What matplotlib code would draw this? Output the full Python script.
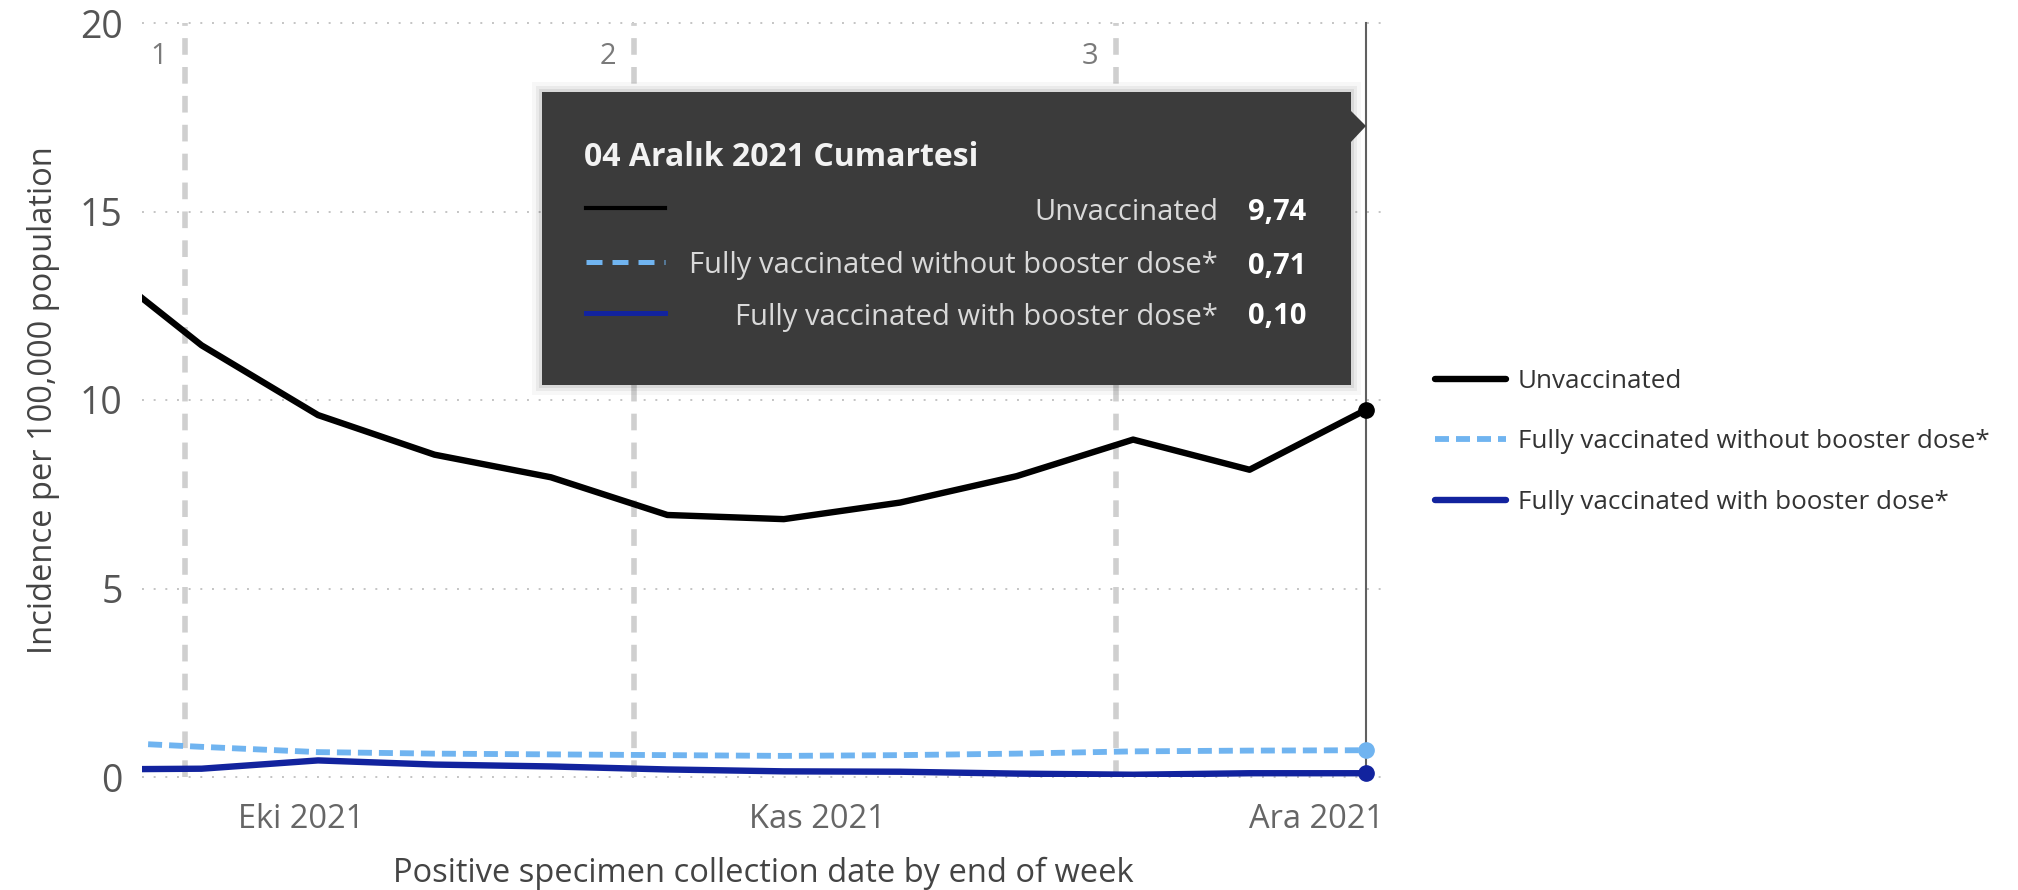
import datetime as dt

import matplotlib

matplotlib.use("Agg")
import matplotlib.pyplot as plt
from matplotlib.lines import Line2D
from matplotlib.patches import Polygon, Rectangle

plt.rcParams["font.family"] = ["Open Sans", "DejaVu Sans"]

# Weekly incidence per 100,000 (week ending date)
week_end = [
    "2021-09-18", "2021-09-25", "2021-10-02", "2021-10-09", "2021-10-16", "2021-10-23",
    "2021-10-30", "2021-11-06", "2021-11-13", "2021-11-20", "2021-11-27", "2021-12-04",
]
unvaccinated = [13.9, 11.45, 9.6, 8.55, 7.95, 6.95, 6.84, 7.28, 7.98, 8.95, 8.15, 9.74]
no_booster = [0.95, 0.80, 0.66, 0.62, 0.60, 0.58, 0.56, 0.58, 0.62, 0.68, 0.70, 0.71]
with_booster = [0.20, 0.22, 0.44, 0.33, 0.28, 0.20, 0.15, 0.14, 0.09, 0.06, 0.10, 0.10]

series_names = [
    "Unvaccinated",
    "Fully vaccinated without booster dose*",
    "Fully vaccinated with booster dose*",
]
series_colors = ["#000000", "#70B4F0", "#12239E"]

# numbered reference markers on the date axis
phase_dates = ["2021-09-24", "2021-10-21", "2021-11-19"]
phase_labels = ["1", "2", "3"]

month_ticks = ["2021-10-01", "2021-11-01", "2021-12-01"]
month_labels = ["Eki 2021", "Kas 2021", "Ara 2021"]
y_ticks = [0, 5, 10, 15, 20]

tr_months = ["Ocak", "Şubat", "Mart", "Nisan", "Mayıs", "Haziran", "Temmuz",
             "Ağustos", "Eylül", "Ekim", "Kasım", "Aralık"]
tr_days = ["Pazartesi", "Salı", "Çarşamba", "Perşembe", "Cuma", "Cumartesi", "Pazar"]


def to_date(s):
    return dt.datetime.strptime(s, "%Y-%m-%d")


dates = [to_date(d) for d in week_end]
series = [unvaccinated, no_booster, with_booster]

W, H = 2018, 890
fig = plt.figure(figsize=(W / 100, H / 100), dpi=100)


def fx(x):
    return x / W


def fy(y):
    return 1 - y / H


ax = fig.add_axes([fx(142), fy(777), fx(1384 - 142), (777 - 23) / H])
ax.set_xlim(dt.datetime(2021, 9, 21, 10), dt.datetime(2021, 12, 5, 2))
ax.set_ylim(0, 20)
for s in ax.spines.values():
    s.set_visible(False)

# dotted horizontal grid
for v in y_ticks:
    ax.axhline(v, color="#c4c4c4", lw=1.4, ls=(0, (1, 5)), zorder=0, clip_on=False)

# reference markers
for d, lab in zip(phase_dates, phase_labels):
    ax.plot([to_date(d)] * 2, [0, 20], color="#cfcfcf", lw=4, ls=(0, (3, 2.2)),
            zorder=1, clip_on=False)
    ax.annotate(lab, (to_date(d), 19.1), xytext=(-13, 0), textcoords="offset points",
                ha="right", va="center", fontsize=21, color="#7a7a7a")

# hover crosshair on the last week
ax.plot([dates[-1]] * 2, [0.1, 20], color="#606060", lw=1.5, zorder=2, clip_on=False)

styles = [dict(ls="-", lw=4.6), dict(ls=(0, (2.4, 1.2)), lw=4.2), dict(ls="-", lw=4.6)]
for vals, name, col, st in zip(series, series_names, series_colors, styles):
    ax.plot(dates, vals, color=col, label=name, zorder=3, solid_capstyle="round", **st)
    ax.plot([dates[-1]], [vals[-1]], "o", color=col, ms=11, zorder=4, clip_on=False)

ax.set_xticks([to_date(d) for d in month_ticks])
ax.set_xticklabels(month_labels)
ax.set_yticks(y_ticks)
ax.tick_params(axis="x", length=0, pad=19, labelsize=23.5, labelcolor="#666666")
ax.tick_params(axis="y", length=0, pad=14, labelsize=27, labelcolor="#555555")
ax.set_xlabel("Positive specimen collection date by end of week", fontsize=23.5,
              color="#444444", labelpad=15)
ax.set_ylabel("Incidence per 100,000 population", fontsize=23.5, color="#444444",
              labelpad=14)

leg = ax.legend(loc="center left", bbox_to_anchor=(fx(1435), fy(442)),
                bbox_transform=fig.transFigure, frameon=False, fontsize=18.7,
                handlelength=2.75, handletextpad=0.45, labelspacing=1.38,
                borderpad=0, borderaxespad=0)
for t in leg.get_texts():
    t.set_color("#333333")

# tooltip for the hovered week
box_l, box_r, box_t, box_b = 542, 1351, 92, 385
for grow, alpha in [(10, 0.03), (6, 0.05), (3, 0.07)]:
    fig.add_artist(Rectangle((fx(box_l - grow), fy(box_b + grow)),
                             fx(box_r - box_l + 2 * grow), (box_b - box_t + 2 * grow) / H,
                             transform=fig.transFigure, color="#000000", alpha=alpha, lw=0))
fig.add_artist(Rectangle((fx(box_l), fy(box_b)), fx(box_r - box_l), (box_b - box_t) / H,
                         transform=fig.transFigure, color="#3b3b3b", lw=0))
fig.add_artist(Polygon([(fx(box_r - 1), fy(110)), (fx(box_r + 15), fy(126)),
                        (fx(box_r - 1), fy(143))],
                       closed=True, transform=fig.transFigure, color="#3b3b3b", lw=0))

last = dates[-1]
title = f"{last.day:02d} {tr_months[last.month - 1]} {last.year} {tr_days[last.weekday()]}"
fig.text(fx(584), fy(158), title, fontsize=23, fontweight="bold", color="#f2f2f2",
         va="center", ha="left")

row_y = [212, 266, 317]
sample_ls = ["-", (0, (3.2, 2.0)), "-"]
sample_lw = [3.0, 3.6, 3.6]
for vals, name, col, ls, lw, y in zip(series, series_names, series_colors, sample_ls,
                                      sample_lw, row_y):
    fig.add_artist(Line2D([fx(586), fx(665)], [fy(y - 4)] * 2, color=col,
                          lw=lw, ls=ls, transform=fig.transFigure))
    fig.text(fx(1218), fy(y), name, fontsize=21, color="#d9d9d9", ha="right", va="center")
    fig.text(fx(1248), fy(y), f"{vals[-1]:.2f}".replace(".", ","), fontsize=21,
             fontweight="bold", color="#ffffff", ha="left", va="center")

fig.savefig("out.png", dpi=100, facecolor="white")
